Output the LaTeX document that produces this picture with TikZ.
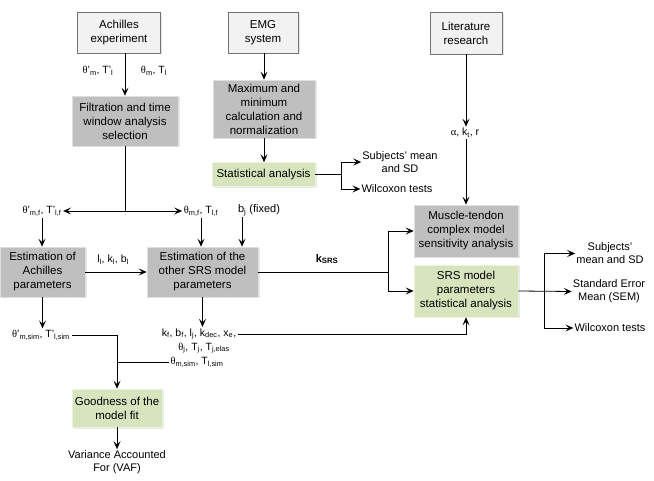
\documentclass[tikz,border=0pt]{standalone}
\usepackage{fontspec}
\setmainfont{Liberation Sans}
\newfontfamily\serifgr{Liberation Serif}
\usetikzlibrary{arrows.meta,shadows}
\definecolor{boxgray}{HTML}{BFBFBF}
\definecolor{boxgreen}{HTML}{D7E4BD}
\definecolor{boxwhite}{HTML}{F2F2F2}
\newcommand\mysub[1]{\textsubscript{#1}}
\newcommand\thet{{\serifgr θ}}
\newcommand\alf{{\serifgr α}}
\begin{document}
\begin{tikzpicture}[x=1pt,y=-1pt,
 base/.style={align=center,font=\fontsize{11.5}{14}\selectfont,inner sep=0pt,
   drop shadow={shadow xshift=1.5pt,shadow yshift=-1.5pt,opacity=0.18}},
 topbox/.style={base,fill=boxwhite,draw=gray!90!black,line width=0.7pt},
 graybox/.style={base,fill=boxgray,draw=gray!25,line width=0.7pt},
 greenbox/.style={base,fill=boxgreen,draw=boxgreen!50,line width=0.7pt},
 lbl/.style={font=\fontsize{10.5}{13}\selectfont,inner sep=1.5pt,align=center},
 txt/.style={font=\fontsize{11}{13}\selectfont,inner sep=1pt,align=center},
 arr/.style={-{Stealth[length=8pt,width=7pt,inset=3.5pt]},line width=0.8pt},
 ln/.style={line width=0.8pt},
]
\useasboundingbox (0,0) rectangle (654,481);

% boxes
\node[topbox,minimum width=83pt,minimum height=41pt] (ach) at (119,32.5) {Achilles\\experiment};
\node[topbox,minimum width=70pt,minimum height=41pt] (emg) at (263,32.5) {EMG\\system};
\node[topbox,minimum width=72pt,minimum height=42pt] (lit) at (466,33) {Literature\\research};
\node[graybox,minimum width=106pt,minimum height=50pt] (filt) at (125,121) {Filtration and time\\window analysis\\selection};
\node[graybox,minimum width=102pt,minimum height=58pt] (maxm) at (264,109) {Maximum and\\minimum\\calculation and\\normalization};
\node[greenbox,minimum width=103pt,minimum height=24pt] (stat) at (263.5,174.5) {Statistical analysis};
\node[graybox,minimum width=85pt,minimum height=50pt] (estA) at (42.5,272) {Estimation of\\Achilles\\parameters};
\node[graybox,minimum width=111pt,minimum height=50pt] (estO) at (202.5,272) {Estimation of the\\other SRS model\\parameters};
\node[graybox,minimum width=104pt,minimum height=52pt] (mus) at (466,231) {Muscle-tendon\\complex model\\sensitivity analysis};
\node[greenbox,minimum width=104pt,minimum height=52pt] (srs) at (466,291) {SRS model\\parameters\\statistical analysis};
\node[greenbox,minimum width=90pt,minimum height=38pt] (good) at (117,408) {Goodness of the\\model fit};

% labels
\node[lbl] (lA) at (98,71) {\thet'\mysub{m}, T'\mysub{l}};
\node[lbl] (lB) at (154,71) {\thet\mysub{m}, T\mysub{l}};
\node[lbl] (thfA) at (42,211) {\thet'\mysub{m,f}, T'\mysub{l,f}};
\node[lbl] (thfO) at (201,211) {\thet\mysub{m,f}, T\mysub{l,f}};
\node[lbl,font=\fontsize{11}{13}\selectfont] (bj) at (259,210) {b\mysub{j} (fixed)};
\node[lbl] (lkb) at (113,260) {l\mysub{l}, k\mysub{l}, b\mysub{l}};
\node[lbl,font=\bfseries\fontsize{11}{13}\selectfont] (ksrs) at (327,259) {k\mysub{SRS}};
\node[lbl] (alk) at (465,133) {\alf, k\mysub{t}, r};
\node[lbl] (thsA) at (41,335) {\thet'\mysub{m,sim}, T'\mysub{l,sim}};
\node[lbl] (p1) at (199,334) {k\mysub{f}, b\mysub{f}, l\mysub{j}, k\mysub{dec}, x\mysub{e},};
\node[lbl] (p2) at (204,348) {\thet\mysub{j}, T\mysub{j}, T\mysub{j,elas}};
\node[lbl] (p3) at (197,362) {\thet\mysub{m,sim}, T\mysub{l,sim}};

% outputs
\node[txt] (subj1) at (400,162) {Subjects' mean\\and SD};
\node[txt] (wil1) at (397,189) {Wilcoxon tests};
\node[txt] (subj2) at (610,253.5) {Subjects'\\mean and SD};
\node[txt] (sem) at (609,291.5) {Standard Error\\Mean (SEM)};
\node[txt] (wil2) at (610,328) {Wilcoxon tests};
\node[txt] (vaf) at (117,462) {Variance Accounted\\For (VAF)};

% connectors top
\draw[arr] (ach.south -| filt) -- (filt.north);
\draw[arr] (emg.south -| maxm) -- (maxm.north);
\draw[arr] (maxm.south) -- (stat.north -| maxm);
\draw[arr] (lit.south) -- (alk.north -| lit);
\draw[arr] (alk.south -| lit) -- (mus.north);

% filtration split
\coordinate (fj) at (filt.south |- thfA);
\draw[ln] (filt.south) -- (fj);
\draw[arr] (fj) -- (thfA.east);
\draw[arr] (fj) -- (thfO.west);
\draw[arr] (thfA.south) -- (thfA.south |- estA.north);
\draw[arr] (thfO.south) -- (thfO.south |- estO.north);
\coordinate (bjx) at (242,0);
\draw[arr] (bj.south -| bjx) -- (estO.north -| bjx);

% statistical analysis outputs
\coordinate (sj) at (341,174.5);
\draw[ln] (stat.east) -- (sj);
\draw[arr] (sj) |- (subj1.west);
\draw[arr] (sj) |- (wil1.west);

% estimation links
\draw[arr] (estA.east) -- (estO.west);
\coordinate (kj) at (388,272);
\draw[ln] (estO.east) -- (kj);
\draw[arr] (kj) |- (mus.west);
\draw[arr] (kj) |- (srs.west);

% srs outputs
\coordinate (rj) at (544,291);
\draw[arr] (srs.east) -- (sem.west);
\draw[arr] (rj) |- (subj2.west);
\draw[arr] (rj) |- (wil2.west);

% lower part
\draw[arr] (estA.south) -- (estA.south |- thsA.north);
\draw[arr] (estO.south) -- (estO.south |- p1.north);
\draw[arr] (thsA.east) -| (good.north);
\draw[ln] (p3.west) -- (p3.west -| good);
\draw[arr] (p1.east) -| (srs.south);
\draw[arr] (good.south) -- (vaf.north);
\end{tikzpicture}
\end{document}
